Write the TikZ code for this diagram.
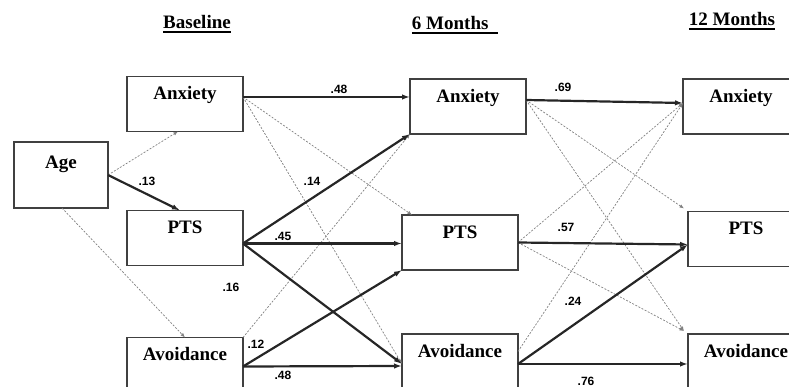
\documentclass[tikz,border=0pt]{standalone}
\usepackage{fontspec}
\setmainfont{Liberation Serif}
\newfontfamily\numfont{Liberation Sans}
\usetikzlibrary{arrows.meta,positioning}
\newcommand\headrule[1]{\vtop{\hbox{#1}\kern2pt\hrule height 1.6pt}}

\begin{document}
\begin{tikzpicture}[
        x=1pt, y=1pt,
        box/.style={draw=black!75, line width=1.4pt, outer sep=0pt, inner sep=3pt, minimum width=116pt, minimum height=55pt, text height=14pt, text depth=22pt, font=\fontsize{19}{22}\selectfont\bfseries},
        head/.style={anchor=base, inner sep=0pt, font=\fontsize{19}{22}\selectfont\bfseries},
        coef/.style={inner sep=0pt, font=\numfont\fontsize{12}{14}\selectfont\bfseries},
        arrow/.style={-{Latex[length=8pt,width=5.5pt]}, line width=2.2pt, black!85},
        weak/.style={-{Latex[length=4.5pt,width=3.5pt]}, line width=0.7pt, black!50, dash pattern=on 2pt off 1.5pt}
    ]
        \useasboundingbox (0,0) rectangle (789,387);
        \clip (0,0) rectangle (789,387);

        \node[head] (hBase) at (197,358) {\headrule{Baseline}};
        \node[head] (hSix) at (455,357) {\headrule{6 Months\ \ }};
        \node[head] (hTwelve) at (732,361) {\headrule{12 Months}};

        \node[box, minimum width=94pt, minimum height=66pt, line width=2.6pt, text depth=26pt] (age) at (61,212) {Age};
        \node[box] (anxB) at (185,283) {Anxiety};
        \node[box, below=79pt of anxB] (ptsB) {PTS};
        \node[box, below=72pt of ptsB] (avoB) {Avoidance};

        \node[box, right=167pt of anxB, yshift=-2.5pt] (anxSix) {Anxiety};
        \node[box, right=159pt of ptsB, yshift=-4.5pt] (ptsSix) {PTS};
        \node[box, below=64pt of ptsSix] (avoSix) {Avoidance};

        \node[box, right=157pt of anxSix] (anxTwelve) {Anxiety};
        \node[box, right=170pt of ptsSix, yshift=3.5pt] (ptsTwelve) {PTS};
        \node[box, right=170pt of avoSix] (avoTwelve) {Avoidance};

        \draw[weak] (age.east) -- ([xshift=-7pt]anxB.south);
        \draw[weak] ([xshift=1pt]age.south) -- (avoB.north);
        \draw[weak] ([yshift=7pt]anxB.east) -- ([xshift=10pt]ptsSix.north west);
        \draw[weak] ([yshift=7pt]anxB.east) -- ([yshift=-2.5pt]avoSix.west);
        \draw[weak] (avoB.north east) -- (anxSix.south west);
        \draw[weak] ([yshift=6.5pt]anxSix.east) -- ([shift={(-4pt,3pt)}]ptsTwelve.north west);
        \draw[weak] ([yshift=6.5pt]anxSix.east) -- ([shift={(-4pt,3pt)}]avoTwelve.north west);
        \draw[weak] (ptsSix.east) -- ([yshift=3.5pt]anxTwelve.west);
        \draw[weak] (ptsSix.east) -- ([shift={(-4pt,3pt)}]avoTwelve.north west);
        \draw[weak] ([yshift=10pt]avoSix.east) -- ([yshift=3.5pt]anxTwelve.west);

        \draw[arrow] (age.east) -- ([xshift=-5pt]ptsB.north);
        \draw[arrow] ([yshift=7pt]anxB.east) -- ([yshift=9.5pt]anxSix.west);
        \draw[arrow] ([yshift=-5.5pt]ptsB.east) -- (anxSix.south west);
        \draw[arrow] ([yshift=-5.5pt]ptsB.east) -- ([yshift=-1pt]ptsSix.west);
        \draw[arrow] ([yshift=-5.5pt]ptsB.east) -- ([yshift=-2.5pt]avoSix.west);
        \draw[arrow] ([yshift=-1.5pt]avoB.east) -- (ptsSix.south west);
        \draw[arrow] ([yshift=-1.5pt]avoB.east) -- ([yshift=-4.5pt]avoSix.west);
        \draw[arrow] ([yshift=6.5pt]anxSix.east) -- ([yshift=3.5pt]anxTwelve.west);
        \draw[arrow] (ptsSix.east) -- ([yshift=-5.5pt]ptsTwelve.west);
        \draw[arrow] ([yshift=-2.5pt]avoSix.east) -- ([yshift=-5.5pt]ptsTwelve.west);
        \draw[arrow] ([yshift=-2.5pt]avoSix.east) -- ([yshift=-2.5pt]avoTwelve.west);

        \node[coef] (cAgePts) at (147,206) {.13};
        \node[coef] (cAnxAnx) at (339,298) {.48};
        \node[coef] (cFourteen) at (312,206) {.14};
        \node[coef] (cPtsPts) at (283,151) {.45};
        \node[coef] (cSixteen) at (231,100) {.16};
        \node[coef] (cTwelve) at (256,43) {.12};
        \node[coef] (cAvoAvo) at (283,12) {.48};
        \node[coef] (cAnxLate) at (563,300) {.69};
        \node[coef] (cPtsLate) at (566,160) {.57};
        \node[coef] (cAvoPts) at (573,86) {.24};
        \node[coef] (cAvoLate) at (586,6) {.76};
    \end{tikzpicture}
\end{document}
